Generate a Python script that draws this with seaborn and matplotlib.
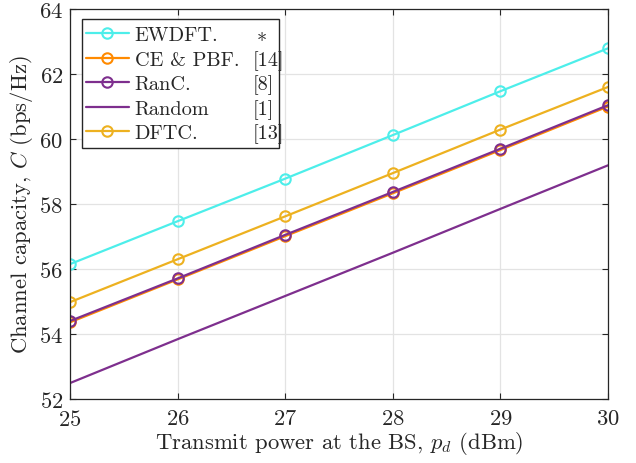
import numpy as np
import pandas as pd
import matplotlib
matplotlib.use("Agg")
import matplotlib.pyplot as plt
import seaborn as sns
from matplotlib.patches import Rectangle

power_dbm = [25, 26, 27, 28, 29, 30]
ewdft = [56.15, 57.47, 58.78, 60.12, 61.47, 62.79]
ce_pbf = [54.36, 55.68, 57.01, 58.33, 59.66, 61.00]
ranc = [54.40, 55.71, 57.05, 58.37, 59.70, 61.04]
random_sel = [52.49, 53.84, 55.17, 56.50, 57.85, 59.19]
dftc = [54.98, 56.30, 57.62, 58.95, 60.29, 61.60]

names = ["EWDFT.", "CE & PBF.", "RanC.", "Random", "DFTC."]
refs = ["$*$", "[14]", "[8]", "[1]", "[13]"]
series = [ewdft, ce_pbf, ranc, random_sel, dftc]
colors = ["#4DEEEA", "#FF8A00", "#7E2F8E", "#7E2F8E", "#EDB120"]
has_marker = [True, True, True, False, True]

sns.set_theme(style="ticks")
plt.rcParams["font.family"] = ["cmr10", "DejaVu Serif"]
plt.rcParams["mathtext.fontset"] = "cm"
plt.rcParams["axes.formatter.use_mathtext"] = True
plt.rcParams["xtick.direction"] = "in"
plt.rcParams["ytick.direction"] = "in"

FS = 16.3
LFS = 14.6
TXT = "#262626"
fig = plt.figure(figsize=(6.36, 4.64), dpi=100)
ax = fig.add_axes([70/636, 1-400/464, (608-70)/636, (400-10)/464])

for name, vals, col, mk in zip(names, series, colors, has_marker):
    df = pd.DataFrame({"p": power_dbm, "c": vals})
    sns.lineplot(data=df, x="p", y="c", ax=ax, color=col, linewidth=1.6,
                 marker="o" if mk else None, markersize=7.5,
                 markerfacecolor="none", markeredgecolor=col, markeredgewidth=1.5,
                 label=name)

ax.set_xlim(25, 30)
ax.set_ylim(52, 64)
ax.set_xticks(power_dbm)
ax.set_yticks(np.arange(52, 65, 2))
ax.grid(True, color="#e3e3e3", linewidth=0.9)
ax.set_axisbelow(True)
for s in ax.spines.values():
    s.set_visible(True)
    s.set_color(TXT)
    s.set_linewidth(0.9)
ax.tick_params(axis="both", which="both", direction="in", length=4, width=0.8,
               top=True, right=True, labelsize=FS, colors=TXT)
ax.tick_params(axis="y", pad=5)
ax.tick_params(axis="x", pad=7)
ax.set_xlabel("Transmit power at the BS, $p_d$ (dBm)", fontsize=FS, color=TXT, labelpad=0)
ax.set_ylabel("Channel capacity, $C$ (bps/Hz)", fontsize=FS, color=TXT, labelpad=3)

leg = ax.legend(loc="upper left", bbox_to_anchor=(16/538, (400-27)/390),
                borderaxespad=0, frameon=False, fontsize=LFS,
                handlelength=2.1, handletextpad=0.3, labelspacing=0.31,
                borderpad=0.0)
leg.set_zorder(6)

# legend frame wide enough for reference column
rect = Rectangle((12/538, (400-149)/390), (279-82)/538, (149-20)/390,
                 transform=ax.transAxes, facecolor="white", edgecolor=TXT,
                 linewidth=1.0, zorder=5.5)
ax.add_patch(rect)

fig.canvas.draw()
inv = ax.transAxes.inverted()
for t, r in zip(leg.get_texts(), refs):
    disp = t.get_transform().transform(t.get_position())
    xa, ya = inv.transform((253 if r != "$*$" else 256, disp[1]))
    ax.text(xa, ya, r, transform=ax.transAxes, fontsize=LFS, va="baseline",
            ha="left", color=TXT, zorder=7)

fig.savefig("out.png", dpi=100)
